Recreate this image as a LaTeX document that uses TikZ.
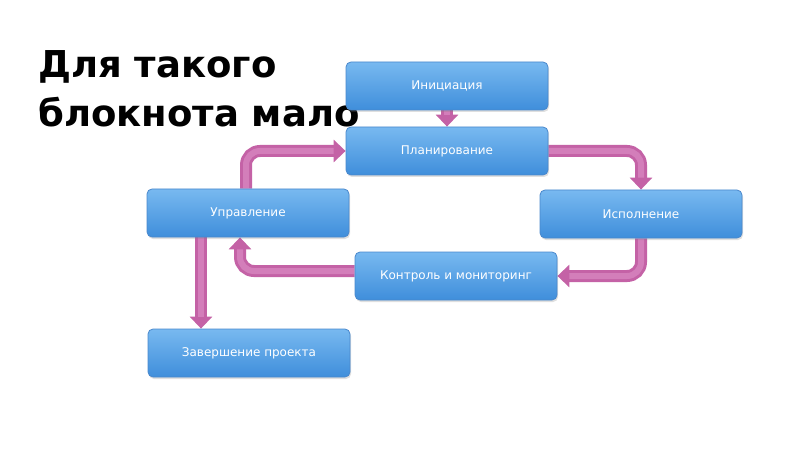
\documentclass[tikz,border=0pt]{standalone}
\usepackage{fontspec}
\setmainfont{DejaVu Sans}
\usetikzlibrary{arrows.meta,shadows,backgrounds,calc}
\definecolor{boxtop}{HTML}{78B9F0}
\definecolor{boxbot}{HTML}{3F8EDB}
\definecolor{boxline}{HTML}{4A88CC}
\definecolor{arrowc}{HTML}{C462A6}
\definecolor{arrowl}{HTML}{E6A2D4}
\tikzset{
  stage/.style={draw=boxline, line width=0.8pt, rounded corners=5pt,
    top color=boxtop, bottom color=boxbot, minimum width=202pt, minimum height=48pt,
    text=white, font=\fontsize{12}{14}\selectfont,
    drop shadow={opacity=0.25, shadow xshift=1pt, shadow yshift=-2pt}},
  flow/.style={draw=arrowc, line width=12pt, rounded corners=14pt,
    -{Triangle[width=22pt,length=12pt]},
    postaction={draw=arrowl, line width=6pt, -, shorten >=12pt, opacity=0.45}},
  title/.style={font=\fontsize{37}{49}\bfseries\selectfont, anchor=base west, inner sep=0pt}
}
\begin{document}
\begin{tikzpicture}[x=1pt,y=-1pt]
\useasboundingbox (0,0) rectangle (800,449);
\node[title] (t1) at (38,78) {Для такого};
\node[title] (t2) at (38,127) {блокнота мало};
\node[stage] (ini) at (447,86) {Инициация};
\node[stage] (plan) at (447,151) {Планирование};
\node[stage] (upr) at (248,213) {Управление};
\node[stage] (isp) at (641,214) {Исполнение};
\node[stage] (kon) at (456,276) {Контроль и мониторинг};
\node[stage] (zav) at (249,353) {Завершение проекта};
\begin{scope}[on background layer]
\fill[white] (0,0) rectangle (800,449);
\draw[flow] (ini.south) -- (plan.north);
\draw[flow] ($(upr.north)+(-2,0)$) |- (plan.west);
\draw[flow] (plan.east) -| (isp.north);
\draw[flow] (isp.south) |- (kon.east);
\draw[flow] ($(kon.west)+(0,-5)$) -| ($(upr.south)+(-8,0)$);
\draw[flow] ($(upr.south)+(-47,0)$) -- ($(zav.north)+(-48,0)$);
\end{scope}
\end{tikzpicture}
\end{document}
